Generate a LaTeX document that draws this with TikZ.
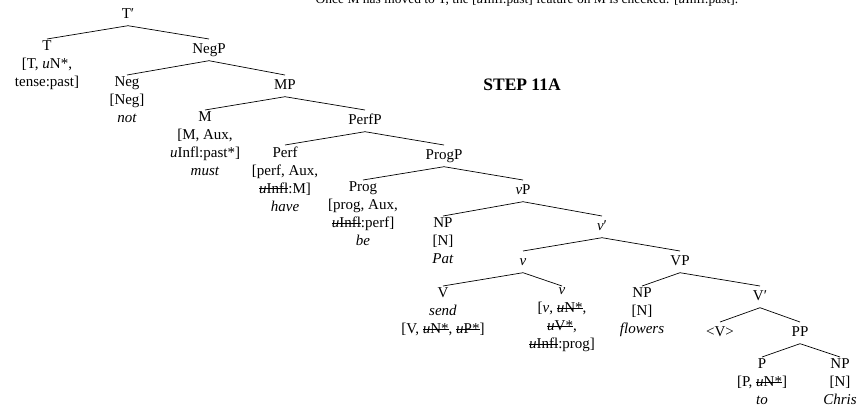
\documentclass[tikz,border=0pt]{standalone}
\usepackage{fontspec}
\setmainfont{Liberation Serif}
\usepackage{tikz}
\usetikzlibrary{positioning}

\newsavebox{\ftbox}
\newcommand{\ftchk}[1]{\sbox{\ftbox}{#1}\rlap{\rule[0.3em]{\wd\ftbox}{0.6pt}}\usebox{\ftbox}}

\begin{document}
\begin{tikzpicture}[x=1pt, y=-1pt, font=\fontsize{15}{18}\selectfont, line width=0.7pt,
        lbl/.style={anchor=north, yshift=9pt, align=center, inner sep=1.5pt, execute at begin node=\strut}]
        \useasboundingbox (0,0) rectangle (861,410);

        \node(note) [anchor=base west, font=\fontsize{13.5}{16}\selectfont] at (312, 3) {Once M has moved to T, the [\textit{u}Infl:past] feature on M is checked: [\ftchk{\textit{u}Infl}:past].};
        \node(step) [font=\fontsize{17.5}{21}\selectfont\bfseries] at (522, 85) {STEP 11A};

        \node(Tbar) [lbl] at (128, 13) {T′};

        \node(T) [lbl] at (47, 48) {T\\{[}T, \textit{u}N*,\\tense:past]};
        \node(NegP) [lbl] at (209, 48) {NegP};

        \node(Neg) [lbl] at (127, 84) {Neg\\{[}Neg]\\\textit{not}};
        \node(MP) [lbl] at (285, 84) {MP};

        \node(M) [lbl] at (205, 119) {M\\{[}M, Aux,\\\textit{u}Infl:past*]\\\textit{must}};
        \node(PerfP) [lbl] at (365, 119) {PerfP};

        \node(Perf) [lbl] at (285, 154) {Perf\\{[}perf, Aux,\\\ftchk{\textit{u}Infl}:M]\\\textit{have}};
        \node(ProgP) [lbl] at (444, 154) {ProgP};

        \node(Prog) [lbl] at (363, 189) {Prog\\{[}prog, Aux,\\\ftchk{\textit{u}Infl}:perf]\\\textit{be}};
        \node(vP) [lbl] at (523, 189) {\textit{v}P};

        \node(NPpat) [lbl] at (443, 225) {NP\\{[}N]\\\textit{Pat}};
        \node(vbar) [lbl] at (602, 225) {\textit{v}′};

        \node(v) [lbl] at (523, 260) {\textit{v}};
        \node(VP) [lbl] at (680, 260) {VP};

        \node(V) [lbl] at (443, 295) {V\\\textit{send}\\{[}V, \ftchk{\textit{u}N*}, \ftchk{\textit{u}P*}]};
        \node(vhead) [lbl] at (562, 295) {\textit{v}\\{[}\textit{v}, \ftchk{\textit{u}N*},\\\ftchk{\textit{u}V*},\\\ftchk{\textit{u}Infl}:prog]};
        \node(NPfl) [lbl] at (642, 295) {NP\\{[}N]\\\textit{flowers}};
        \node(Vbar) [lbl] at (760, 295) {V′};

        \node(Vtr) [lbl] at (720, 331) {<V>};
        \node(PP) [lbl] at (800, 331) {PP};

        \node(P) [lbl] at (762, 366) {P\\{[}P, \ftchk{\textit{u}N*}]\\\textit{to}};
        \node(NPchris) [lbl] at (840, 366) {NP\\{[}N]\\\textit{Chris}};

        \draw (Tbar.south) -- (T.north);
        \draw (Tbar.south) -- (NegP.north);

        \draw (NegP.south) -- (Neg.north);
        \draw (NegP.south) -- (MP.north);

        \draw (MP.south) -- (M.north);
        \draw (MP.south) -- (PerfP.north);

        \draw (PerfP.south) -- (Perf.north);
        \draw (PerfP.south) -- (ProgP.north);

        \draw (ProgP.south) -- (Prog.north);
        \draw (ProgP.south) -- (vP.north);

        \draw (vP.south) -- (NPpat.north);
        \draw (vP.south) -- (vbar.north);

        \draw (vbar.south) -- (v.north);
        \draw (vbar.south) -- (VP.north);

        \draw (v.south) -- (V.north);
        \draw (v.south) -- (vhead.north);

        \draw (VP.south) -- (NPfl.north);
        \draw (VP.south) -- (Vbar.north);

        \draw (Vbar.south) -- (Vtr.north);
        \draw (Vbar.south) -- (PP.north);

        \draw (PP.south) -- (P.north);
        \draw (PP.south) -- (NPchris.north);
    \end{tikzpicture}
\end{document}
